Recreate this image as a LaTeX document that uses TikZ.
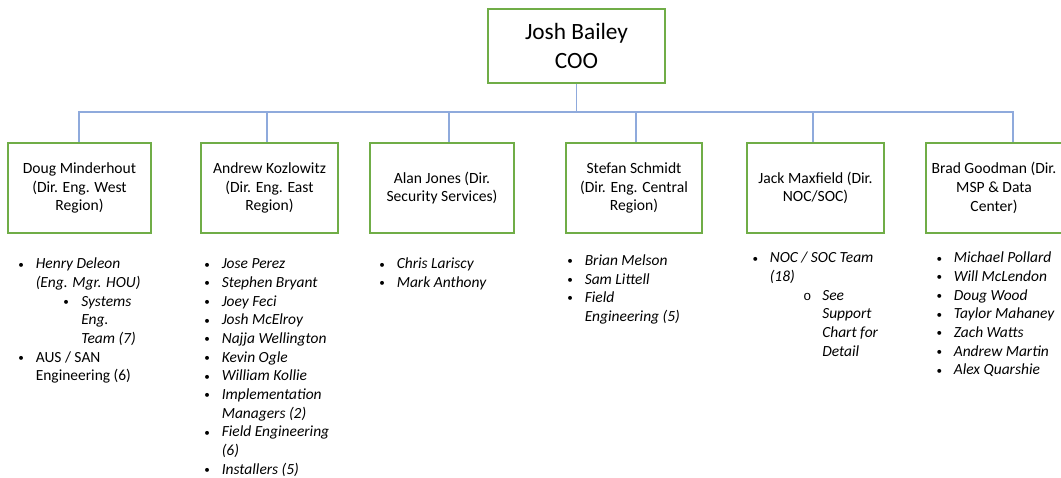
\documentclass[tikz,border=0pt]{standalone}
\usepackage{fontspec}
\setmainfont{Carlito}
\newfontfamily\courierfont{Liberation Mono}
\usetikzlibrary{calc}
\definecolor{boxline}{HTML}{70AD47}
\definecolor{orgline}{HTML}{8FAADC}
\newcommand{\bgap}{10.9pt}
\newcommand{\dotmark}{\raisebox{.6pt}{\scalebox{.72}{\upshape\textbullet}}}
\newcommand{\bi}[1]{\makebox[0pt]{\dotmark}\hspace*{\bgap}#1}
\newcommand{\bc}[1]{\hspace*{\bgap}#1}

\begin{document}
\begin{tikzpicture}[x=.75pt,y=-.75pt,
 every node/.style={inner sep=0pt},
 rolebox/.style={draw=boxline,line width=1.1pt,align=center,
  font=\fontsize{11.7}{14}\selectfont,minimum height=67.5pt},
 link/.style={draw=orgline,line width=.8pt},
 staff/.style={anchor=north west,align=left,font=\fontsize{11.6}{14}\selectfont\itshape}]
\useasboundingbox (0,0) rectangle (1061,478);
% top of the chart
\node[rolebox,minimum width=132.75pt,minimum height=55.5pt,
 font=\fontsize{17.5}{21.5}\selectfont] (coo) at (576.5,46) {Josh Bailey\\COO};
% directors
\foreach \n/\cx/\bw/\txt in {doug/79.5/107.25/{Doug Minderhout\\(Dir. Eng. West\\Region)},
  andrew/269.5/102.75/{Andrew Kozlowitz\\(Dir. Eng. East\\Region)},
  alan/442/108/{Alan Jones (Dir.\\Security Services)},
  stefan/634/102/{Stefan Schmidt\\(Dir. Eng. Central\\Region)},
  jack/815.5/102.75/{Jack Maxfield (Dir.\\NOC/SOC)},
  brad/994/102/{Brad Goodman (Dir.\\MSP \& Data\\Center)}}
 \node[rolebox,minimum width=\bw pt] (\n) at (\cx,188) {\txt};
\coordinate (bus) at (coo.south |- 0,112);
\draw[link] (coo.south) -- (bus);
\foreach \n/\dx in {doug/-.5,andrew/-2.5,alan/7,stefan/2,jack/-2.5,brad/19}
 \draw[link] (bus) -| ($(\n.north)+(\dx,0)$);
% reports under each director
\node[staff] (douglist) at (21,255.6) {\strut\bi{Henry Deleon}\\
 \bc{(Eng. Mgr. HOU)}\\
 \hspace*{33.75pt}\makebox[0pt]{\dotmark}\hspace*{11.25pt}Systems\\
 \hspace*{45pt}Eng.\\
 \hspace*{45pt}Team (7)\\
 \bi{\upshape AUS / SAN}\\
 \bc{\upshape Engineering (6)}};
\node[staff] (andrewlist) at (207,255.6) {\strut\bi{Jose Perez}\\
 \bi{Stephen Bryant}\\
 \bi{Joey Feci}\\
 \bi{Josh McElroy}\\
 \bi{Najja Wellington}\\
 \bi{Kevin Ogle}\\
 \bi{William Kollie}\\
 \bi{Implementation}\\
 \bc{Managers (2)}\\
 \bi{Field Engineering}\\
 \bc{(6)}\\
 \bi{Installers (5)}};
\node[staff] (alanlist) at (382,255.6) {\strut\bi{Chris Lariscy}\\
 \bi{Mark Anthony}};
\node[staff] (stefanlist) at (570,252) {\strut\bi{Brian Melson}\\
 \bi{Sam Littell}\\
 \bi{Field}\\
 \bc{Engineering (5)}};
\node[staff] (jacklist) at (755,249.6) {\strut\bi{NOC / SOC Team}\\
 \bc{(18)}\\
 \hspace*{39pt}\makebox[0pt]{\fontsize{10}{10}\courierfont\upshape o}\hspace*{11.25pt}See\\
 \hspace*{50.25pt}Support\\
 \hspace*{50.25pt}Chart for\\
 \hspace*{50.25pt}Detail};
\node[staff] (bradlist) at (939,249.6) {\strut\bi{Michael Pollard}\\
 \bi{Will McLendon}\\
 \bi{Doug Wood}\\
 \bi{Taylor Mahaney}\\
 \bi{Zach Watts}\\
 \bi{Andrew Martin}\\
 \bi{Alex Quarshie}};
\end{tikzpicture}
\end{document}
